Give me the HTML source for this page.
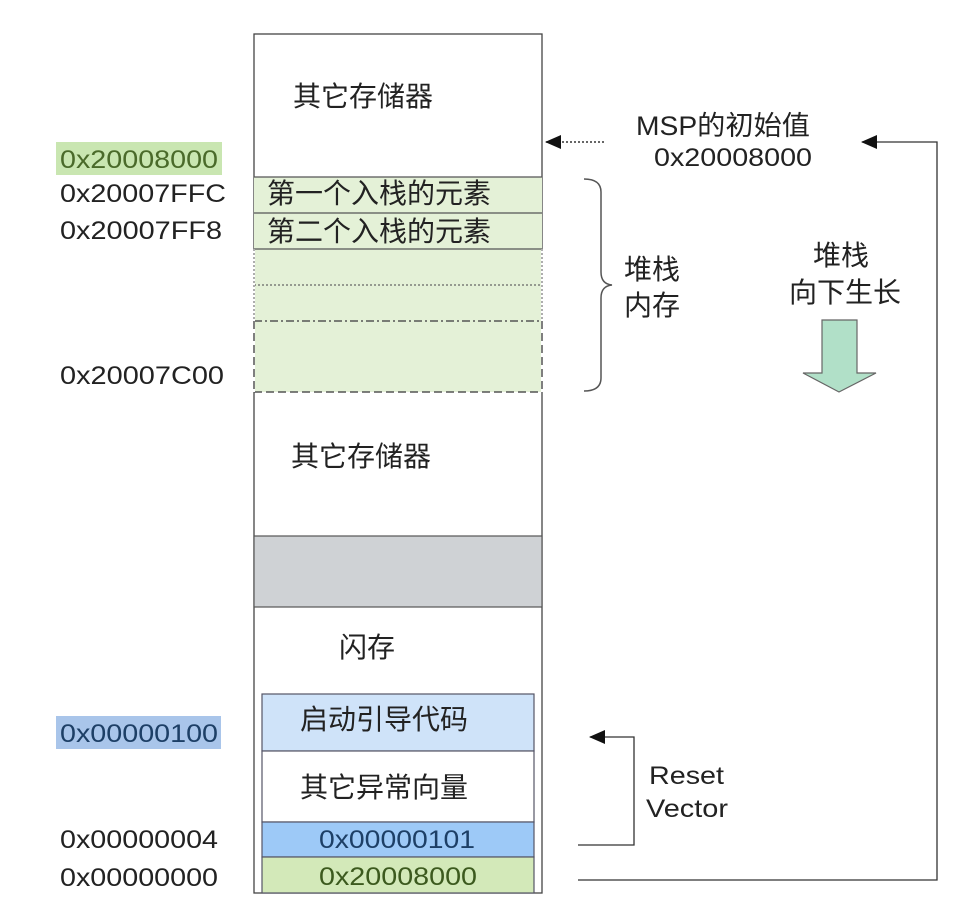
<!DOCTYPE html>
<html><head><meta charset="utf-8"><style>
html,body{margin:0;padding:0;background:#fff;}
svg text{font-family:"Liberation Sans","Noto Sans CJK SC",sans-serif;fill:#222;}
</style></head><body>
<svg width="955" height="912" viewBox="0 0 955 912" xmlns="http://www.w3.org/2000/svg">
<defs>
<marker id="ah" markerWidth="16" markerHeight="14" refX="15" refY="7" orient="auto" markerUnits="userSpaceOnUse">
<path d="M0,0 L16,7 L0,14 z" fill="#111"/></marker>
</defs>
<rect x="254" y="34" width="288" height="859" fill="#fff" stroke="#444" stroke-width="1.3"/>
<rect x="254" y="177" width="288" height="215" fill="#e4f1d7"/>
<line x1="254" y1="177" x2="542" y2="177" stroke="#555" stroke-width="1.2"/>
<line x1="254" y1="213" x2="542" y2="213" stroke="#555" stroke-width="1.2"/>
<line x1="254" y1="249" x2="542" y2="249" stroke="#555" stroke-width="1.2"/>
<line x1="254" y1="285" x2="542" y2="285" stroke="#666" stroke-width="1.2" stroke-dasharray="2,2"/>
<line x1="254" y1="321" x2="542" y2="321" stroke="#555" stroke-width="1.5" stroke-dasharray="8,3,2,3"/>
<line x1="254" y1="392" x2="542" y2="392" stroke="#555" stroke-width="1.5" stroke-dasharray="8,4"/>
<line x1="254" y1="249" x2="254" y2="392" stroke="#fff" stroke-width="2"/>
<line x1="542" y1="249" x2="542" y2="392" stroke="#fff" stroke-width="2"/>
<line x1="254" y1="249" x2="254" y2="321" stroke="#777" stroke-width="1.2" stroke-dasharray="2,2"/>
<line x1="542" y1="249" x2="542" y2="321" stroke="#777" stroke-width="1.2" stroke-dasharray="2,2"/>
<line x1="254" y1="321" x2="254" y2="392" stroke="#555" stroke-width="1.5" stroke-dasharray="8,4"/>
<line x1="542" y1="321" x2="542" y2="392" stroke="#555" stroke-width="1.5" stroke-dasharray="8,4"/>
<rect x="254" y="536" width="288" height="71" fill="#cfd2d5" stroke="#555" stroke-width="1.2"/>
<rect x="262" y="694" width="272" height="57" fill="#cfe3f9" stroke="#556" stroke-width="1.2"/>
<rect x="262" y="751" width="272" height="71" fill="#fff" stroke="#556" stroke-width="1.2"/>
<rect x="262" y="822" width="272" height="35" fill="#9dc9f7" stroke="#556" stroke-width="1.2"/>
<rect x="262" y="857" width="272" height="36" fill="#d3e9b9" stroke="#556" stroke-width="1.2"/>
<text x="293" y="106" font-size="28">其它存储器</text>
<text x="267" y="203" font-size="28">第一个入栈的元素</text>
<text x="267" y="241" font-size="28">第二个入栈的元素</text>
<text x="291" y="466" font-size="28">其它存储器</text>
<text x="339" y="657" font-size="28">闪存</text>
<text x="300" y="729" font-size="28">启动引导代码</text>
<text x="300" y="797" font-size="28">其它异常向量</text>
<text x="319" y="848" font-size="25" textLength="156" lengthAdjust="spacingAndGlyphs" style="fill:#1d3f66">0x00000101</text>
<text x="319" y="885" font-size="25" textLength="158" lengthAdjust="spacingAndGlyphs" style="fill:#3c5a1e">0x20008000</text>
<rect x="56" y="142" width="166" height="33" fill="#c9e6b1"/>
<rect x="56" y="716" width="165" height="33" fill="#a9c5ea"/>
<text x="60" y="168" font-size="25" textLength="158" lengthAdjust="spacingAndGlyphs" style="fill:#4a6a2a">0x20008000</text>
<text x="60" y="202" font-size="25" textLength="166" lengthAdjust="spacingAndGlyphs">0x20007FFC</text>
<text x="60" y="239" font-size="25" textLength="162" lengthAdjust="spacingAndGlyphs">0x20007FF8</text>
<text x="60" y="384" font-size="25" textLength="164" lengthAdjust="spacingAndGlyphs">0x20007C00</text>
<text x="60" y="742" font-size="25" textLength="158" lengthAdjust="spacingAndGlyphs" style="fill:#1d3f66">0x00000100</text>
<text x="60" y="848" font-size="25" textLength="158" lengthAdjust="spacingAndGlyphs">0x00000004</text>
<text x="60" y="886" font-size="25" textLength="158" lengthAdjust="spacingAndGlyphs">0x00000000</text>
<path d="M584,179 Q601,179 601,192 L601,272 Q601,284 612,285 Q601,286 601,298 L601,378 Q601,391 584,391" fill="none" stroke="#555" stroke-width="1.5"/>
<text x="624" y="279" font-size="28">堆栈</text>
<text x="624" y="315" font-size="28">内存</text>
<line x1="604" y1="142" x2="546" y2="142" stroke="#333" stroke-width="1.5" stroke-dasharray="2,2" marker-end="url(#ah)"/>
<text x="636" y="135" font-size="27" textLength="174" lengthAdjust="spacingAndGlyphs">MSP的初始值</text>
<text x="654" y="166" font-size="25" textLength="158" lengthAdjust="spacingAndGlyphs">0x20008000</text>
<polyline points="578,880 937,880 937,142 862,142" fill="none" stroke="#333" stroke-width="1.3" marker-end="url(#ah)"/>
<text x="813" y="265" font-size="28">堆栈</text>
<text x="789" y="302" font-size="28">向下生长</text>
<path d="M822,320 L857,320 L857,373 L876,373 L839,392 L803,373 L822,373 z" fill="#b1e0c8" stroke="#666" stroke-width="1.2"/>
<polyline points="578,845 634,845 634,737 590,737" fill="none" stroke="#333" stroke-width="1.3" marker-end="url(#ah)"/>
<text x="649" y="784" font-size="25" textLength="75" lengthAdjust="spacingAndGlyphs">Reset</text>
<text x="646" y="817" font-size="25" textLength="82" lengthAdjust="spacingAndGlyphs">Vector</text>
</svg>
</body></html>
